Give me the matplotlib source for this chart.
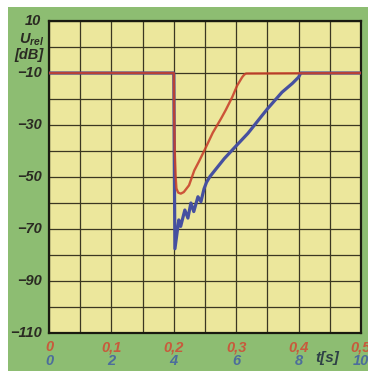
import matplotlib
matplotlib.use("Agg")
import matplotlib.pyplot as plt
from matplotlib.patches import Rectangle

plt.rcParams['font.family'] = ['Liberation Sans', 'DejaVu Sans']
plt.rcParams['mathtext.fontset'] = 'custom'
plt.rcParams['mathtext.it'] = 'Liberation Sans:bold:italic'
plt.rcParams['mathtext.rm'] = 'Liberation Sans:bold'

# Daten
t_red = [0, 0.2, 0.2005, 0.2015, 0.203, 0.2042, 0.207, 0.2112, 0.216, 0.2244,
         0.2328, 0.2404, 0.25, 0.2624, 0.2758, 0.2831, 0.2936, 0.3016, 0.3096,
         0.313, 0.316, 0.5]
u_red = [-10, -10, -25, -40, -50, -54.4, -56, -56.4, -55.8, -53.2,
         -47.5, -44, -39.3, -33, -27.5, -24.3, -19.3, -14.8, -11.6,
         -10.6, -10.2, -10]

t_blue = [0, 0.2, 0.2008, 0.2018, 0.208, 0.211, 0.2177, 0.2226, 0.2274, 0.232,
          0.2387, 0.2435, 0.2485, 0.2525, 0.258, 0.268, 0.281, 0.3, 0.3188,
          0.3403, 0.35, 0.3734, 0.39, 0.4, 0.4035, 0.5]
u_blue = [-10, -10, -45, -77.6, -66.5, -69, -62.7, -65.8, -60, -63.3,
          -57.6, -59.5, -54.5, -52, -49.8, -46.8, -42.9, -38, -33.2,
          -26.7, -23.8, -17.4, -14, -11.6, -10, -10]

x_ticks = [0, 0.1, 0.2, 0.3, 0.4, 0.5]
x_labels_top = ["0", "0,1", "0,2", "0,3", "0,4", "0,5"]
x_labels_bottom = ["0", "2", "4", "6", "8", "10"]
y_ticks = [10, -10, -30, -50, -70, -90, -110]

green = "#8dbd72"
face = "#ece79c"
gridc = "#3b3722"
red = "#c8402a"
blue = "#4650a0"

fig = plt.figure(figsize=(3.68, 3.71), dpi=100, facecolor="white")
fig.patches.append(Rectangle((8 / 368, 0), 1, 1 - 7 / 371, transform=fig.transFigure,
                             facecolor=green, edgecolor="none", zorder=-10))

ax = fig.add_axes([49 / 368, 38 / 371, 312 / 368, 312 / 371])
ax.set_zorder(5)
ax.set_facecolor(face)
ax.set_xlim(0, 0.5)
ax.set_ylim(-110, 10)

# Gitter
ax.set_xticks([i * 0.05 for i in range(11)])
ax.set_yticks(list(range(-110, 11, 10)))
ax.grid(True, color=gridc, linewidth=0.9)
ax.tick_params(length=0, labelbottom=False, labelleft=False)
for s in ax.spines.values():
    s.set_linewidth(1.6)
    s.set_color("#1a1a10")

ax.plot(t_blue, u_blue, color=blue, linewidth=2.3, zorder=3)
ax.plot(t_red, u_red, color=red, linewidth=1.7, alpha=0.88, zorder=4)

# Beschriftung
for y in y_ticks:
    ax.text(-0.012, y, str(y).replace("-", "\u2212"), transform=ax.transData,
            ha="right", va="center", fontsize=10.5, fontweight="bold",
            fontstyle="italic", color="#2a2a22", clip_on=False)

xt = ax.get_xaxis_transform()
for x, lt, lb in zip(x_ticks, x_labels_top, x_labels_bottom):
    ax.text(x, -0.045, lt, transform=xt, ha="center", va="center",
            fontsize=10.5, fontweight="bold", fontstyle="italic",
            color="#c85a3c", clip_on=False)
    ax.text(x, -0.09, lb, transform=xt, ha="center", va="center",
            fontsize=10.5, fontweight="bold", fontstyle="italic",
            color="#4c6d9c", clip_on=False)

fig.text(327 / 368, 1 - 358 / 371, "t[s]", ha="center", va="center",
         fontsize=11, fontweight="bold", fontstyle="italic", color="#2e4046")
fig.text(44 / 368, 1 - 40 / 371, r"$U_{rel}$", ha="right", va="center",
         fontsize=10.5, color="#2a2a22")
fig.text(44 / 368, 1 - 55 / 371, "[dB]", ha="right", va="center",
         fontsize=10.5, fontweight="bold", fontstyle="italic", color="#2a2a22")

plt.savefig("out.png", dpi=100, facecolor="white")
